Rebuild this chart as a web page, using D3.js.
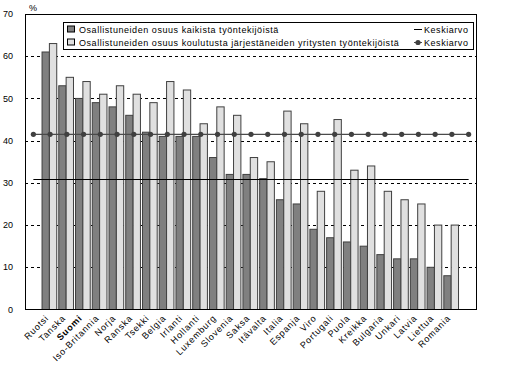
<!DOCTYPE html>
<html>
<head>
<meta charset="utf-8">
<script src="https://cdn.jsdelivr.net/npm/d3@7/dist/d3.min.js"></script>
<style>
  body { margin: 0; background: #fff; }
  svg text { font-family: Arial, "Liberation Sans", sans-serif; font-size: 9px; fill: #000; }
</style>
</head>
<body>
<svg id="chart" width="526" height="366"></svg>
<script>
// data
const countries = ["Ruotsi", "Tanska", "Suomi", "Iso-Britannia", "Norja", "Ranska", "Tsekki", "Belgia",
  "Irlanti", "Hollanti", "Luxemburg", "Slovenia", "Saksa", "Itävalta", "Italia", "Espanja", "Viro",
  "Portugali", "Puola", "Kreikka", "Bulgaria", "Unkari", "Latvia", "Liettua", "Romania"];
const shareAll = [61, 53, 50, 49, 48, 46, 42, 41, 41, 41, 36, 32, 32, 31, 26, 25, 19, 17, 16, 15, 13, 12, 12, 10, 8];
const shareTraining = [63, 55, 54, 51, 53, 51, 49, 54, 52, 44, 48, 46, 36, 35, 47, 44, 28, 45, 33, 34, 28, 26, 25, 20, 20];
const meanAll = 30.8;
const meanTraining = 41.5;
const yTicks = [0, 10, 20, 30, 40, 50, 60, 70];
const seriesNames = ["Osallistuneiden osuus kaikista työntekijöistä",
  "Osallistuneiden osuus koulutusta järjestäneiden yritysten työntekijöistä"];
const meanName = "Keskiarvo";

const svg = d3.select("#chart");
const plotLeft = 25, plotRight = 477, plotTop = 14, plotBottom = 309.5;

//scales
const y = d3.scaleLinear().domain([0, 70]).range([plotBottom, plotTop]);
const x = d3.scaleBand().domain(countries).range([plotLeft, plotRight]).paddingInner(0).paddingOuter(1);
const xInner = d3.scaleBand().domain([0, 1]).range([0.3, 15]);
// mean lines run through every slot incl. the empty ones at both ends
const slots = d3.range(countries.length + 2);
const xSlot = d3.scalePoint().domain(slots).range([plotLeft + x.step() / 2, plotRight - x.step() / 2]);

//gridlines
svg.append("g").selectAll("line")
  .data(yTicks.filter(t => t > 0 && t < 70))
  .join("line")
  .attr("x1", plotLeft).attr("x2", plotRight)
  .attr("y1", d => Math.round(y(d)) + 0.5).attr("y2", d => Math.round(y(d)) + 0.5)
  .attr("stroke", "#000")
  .attr("stroke-dasharray", "3,3");

//y tick labels
svg.append("g").selectAll("text")
  .data(yTicks)
  .join("text")
  .attr("x", 13)
  .attr("y", d => y(d))
  .attr("dy", "0.35em")
  .attr("text-anchor", "end")
  .text(d => d);

svg.append("text").attr("x", 29).attr("y", 11).text("%");

//bars
const fills = ["#808080", "#e0e0e0"];
const groups = svg.append("g").selectAll("g")
  .data(countries)
  .join("g")
  .attr("transform", d => `translate(${x(d)},0)`);
groups.selectAll("rect")
  .data((d, i) => [shareAll[i], shareTraining[i]])
  .join("rect")
  .attr("x", (d, j) => xInner(j))
  .attr("width", xInner.bandwidth())
  .attr("y", d => y(d))
  .attr("height", d => plotBottom - y(d))
  .attr("fill", (d, j) => fills[j])
  .attr("stroke", "#404040")
  .attr("stroke-width", 1);

//mean lines
svg.append("line")
  .attr("x1", xSlot(slots[0])).attr("x2", xSlot(slots[slots.length - 1]))
  .attr("y1", y(meanAll)).attr("y2", y(meanAll))
  .attr("stroke", "#000").attr("stroke-width", 1.2);
svg.append("line")
  .attr("x1", xSlot(slots[0])).attr("x2", xSlot(slots[slots.length - 1]))
  .attr("y1", y(meanTraining)).attr("y2", y(meanTraining))
  .attr("stroke", "#4a4a4a").attr("stroke-width", 1.2);
svg.append("g").selectAll("circle")
  .data(slots)
  .join("circle")
  .attr("cx", d => xSlot(d))
  .attr("cy", y(meanTraining))
  .attr("r", 2.6)
  .attr("fill", "#404040");

//plot frame
svg.append("rect")
  .attr("x", plotLeft + 0.5).attr("y", plotTop + 0.5)
  .attr("width", plotRight - plotLeft - 1).attr("height", plotBottom - plotTop - 0.5)
  .attr("fill", "none").attr("stroke", "#000");

//x labels
svg.append("g").selectAll("text")
  .data(countries)
  .join("text")
  .attr("transform", d => `translate(${x(d) + x.bandwidth() / 2 - 3},${plotBottom + 7}) rotate(-45)`)
  .attr("text-anchor", "end")
  .attr("dy", "0.35em")
  .attr("letter-spacing", 0.8)
  .attr("font-weight", d => d === "Suomi" ? "bold" : null)
  .text(d => d);

//legend
const legend = svg.append("g");
legend.append("rect")
  .attr("x", 63.5).attr("y", 22.5).attr("width", 410).attr("height", 27)
  .attr("fill", "#fff").attr("stroke", "#000");
seriesNames.forEach((name, i) => {
  const ly = 29.5 + i * 13;
  legend.append("rect")
    .attr("x", 67.5).attr("y", ly - 3.5).attr("width", 7).attr("height", 6)
    .attr("fill", fills[i]).attr("stroke", "#000");
  legend.append("text").attr("x", 79).attr("y", ly).attr("dy", "0.35em")
    .attr("letter-spacing", 0.55).text(name);
  legend.append("text").attr("x", 424).attr("y", ly).attr("dy", "0.35em")
    .attr("letter-spacing", 0.55).text(meanName);
});
legend.append("line")
  .attr("x1", 414).attr("x2", 422).attr("y1", 29.5).attr("y2", 29.5)
  .attr("stroke", "#000");
legend.append("line")
  .attr("x1", 414).attr("x2", 422).attr("y1", 42.5).attr("y2", 42.5)
  .attr("stroke", "#4a4a4a");
legend.append("circle")
  .attr("cx", 418).attr("cy", 42.5).attr("r", 2.6).attr("fill", "#404040");
</script>
</body>
</html>
